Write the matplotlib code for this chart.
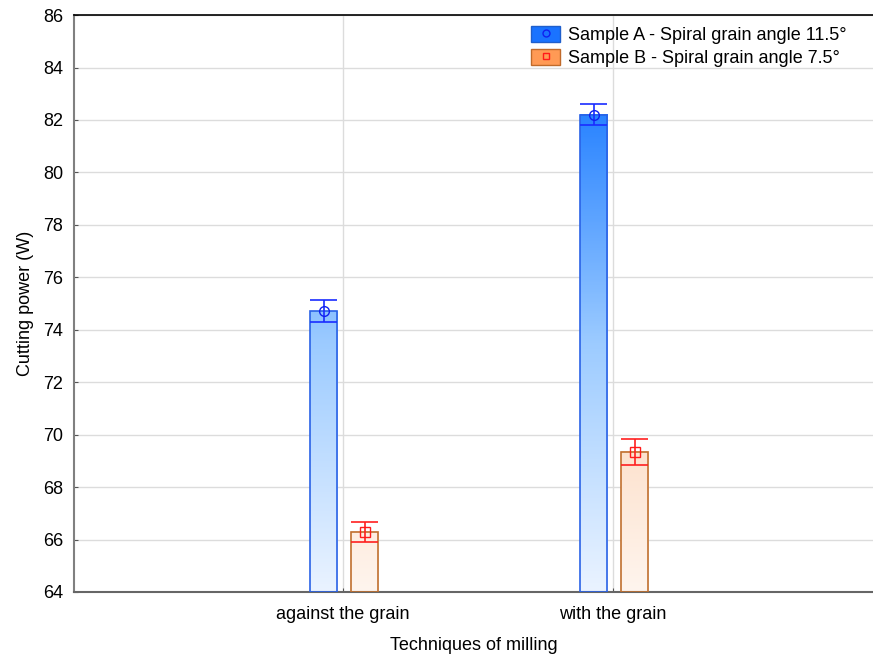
import matplotlib
matplotlib.use('Agg')
import matplotlib.pyplot as plt
import numpy as np
from matplotlib.colors import LinearSegmentedColormap
from matplotlib.patches import Patch
from matplotlib.lines import Line2D

plt.rcParams['font.family'] = ['Liberation Sans', 'DejaVu Sans']

# Data
categories = ['against the grain', 'with the grain']
series = ['Sample A - Spiral grain angle 11.5°', 'Sample B - Spiral grain angle 7.5°']
mean_a = [74.7, 82.2]
err_a = [0.42, 0.40]
mean_b = [66.3, 69.35]
err_b = [0.38, 0.50]
y_ticks = [64, 66, 68, 70, 72, 74, 76, 78, 80, 82, 84, 86]


def main():
    fig = plt.figure(figsize=(8.73, 6.55), dpi=100)
    ax = fig.add_axes([0.0848, 0.0962, 0.9152, 0.8808])

    ymin, ymax = 64, 86
    x = np.arange(len(categories))
    width = 0.1
    offsets = [-0.072, 0.080]

    cmap_a = LinearSegmentedColormap.from_list('a', ['#eaf3ff', '#9ccbff', '#1f7dff'])
    cmap_b = LinearSegmentedColormap.from_list('b', ['#fff5ee', '#fbd3b5', '#f59a58'])

    styles = [
        dict(means=mean_a, errs=err_a, off=offsets[0], cmap=cmap_a, edge='#2a62e6',
             err_color='#1a2cff', marker='o', face='#1a73ff', medge='#1f5fcc',
             mcolor='#1020ee'),
        dict(means=mean_b, errs=err_b, off=offsets[1], cmap=cmap_b, edge='#c0702f',
             err_color='#ff2020', marker='s', face='#ff9a55', medge='#c06a2a',
             mcolor='#ff1a1a'),
    ]

    for st in styles:
        for xi, m, e in zip(x, st['means'], st['errs']):
            x0 = xi + st['off'] - width / 2
            x1 = xi + st['off'] + width / 2
            # gradient fill tied to data value
            vals = np.linspace(ymin, m, 200)[::-1].reshape(-1, 1)
            ax.imshow((vals - ymin) / (83 - ymin), cmap=st['cmap'], vmin=0, vmax=1,
                      extent=[x0, x1, ymin, m], aspect='auto', zorder=2,
                      interpolation='bilinear')
            ax.add_patch(plt.Rectangle((x0, ymin), width, m - ymin, fill=False,
                                       edgecolor=st['edge'], linewidth=1.2, zorder=3))
            xc = xi + st['off']
            ax.vlines(xc, m - e, m + e, color=st['err_color'], linewidth=1.2, zorder=4)
            ax.hlines([m - e, m + e], x0, x1, color=st['err_color'], linewidth=1.2, zorder=4)
            ax.plot(xc, m, marker=st['marker'], markersize=7, markerfacecolor='none',
                    markeredgecolor=st['mcolor'], markeredgewidth=1.0, zorder=5)

    ax.set_xlim(-0.996, 1.963)
    ax.set_ylim(ymin, ymax)
    ax.set_yticks(y_ticks)
    ax.set_xticks(x)
    ax.set_xticklabels(categories)
    ax.tick_params(axis='both', direction='in', length=3, labelsize=13, color='#555555')
    ax.tick_params(axis='x', pad=10)
    ax.tick_params(axis='y', pad=8)

    ax.grid(True, color='#dcdcdc', linewidth=1.0, zorder=0)
    ax.set_axisbelow(True)

    ax.spines['right'].set_visible(False)
    ax.spines['top'].set_color('black')
    ax.spines['top'].set_linewidth(1.2)
    ax.spines['left'].set_color('#808080')
    ax.spines['left'].set_linewidth(1.5)
    ax.spines['bottom'].set_color('#666666')
    ax.spines['bottom'].set_linewidth(1.5)

    ax.set_xlabel('Techniques of milling', fontsize=13, labelpad=10)
    ax.set_ylabel('Cutting power (W)', fontsize=13, labelpad=6)

    handles = []
    for st in styles:
        p = Patch(facecolor=st['face'], edgecolor=st['medge'], linewidth=1.0)
        mk = Line2D([], [], linestyle='none', marker=st['marker'], markersize=5,
                    markerfacecolor='none', markeredgecolor=st['mcolor'])
        handles.append((p, mk))
    ax.legend(handles, series, loc='upper right', bbox_to_anchor=(0.98, 1.0),
              frameon=False, fontsize=13, handlelength=1.6, handleheight=1.0,
              handletextpad=0.4, labelspacing=0.25, borderaxespad=0.2)

    plt.savefig('out.png', dpi=100, facecolor='white')
    plt.close()


if __name__ == "__main__":
    main()
